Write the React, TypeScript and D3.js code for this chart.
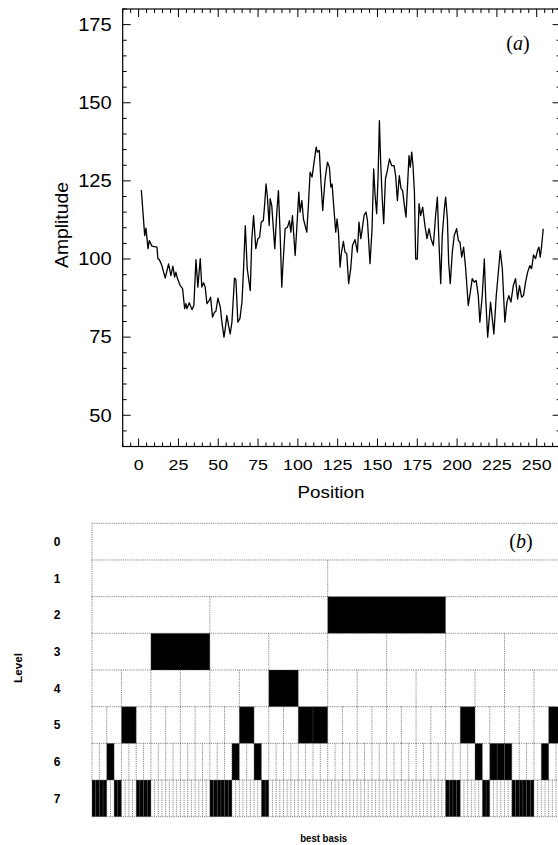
import React from "react";
import * as d3 from "d3";

// ---------- Panel (a): signal ----------
const positions = [
  1.7, 3.8, 4.6, 5.9, 6.7, 8.4, 11.5, 12.1, 13, 14.6, 16.7, 18.8, 20.3, 21.5, 22.6, 23.4, 24.3, 26.1, 27.6, 28.9,
  29.7, 30.3, 31.8, 33.5, 34.7, 36, 37.2, 38.7, 39.7, 40.8, 41.8, 42.9, 44.3, 45.2, 46.4, 47.7, 48.5, 49.8, 51.3, 52.3,
  53.6, 54.4, 55.4, 56.5, 57.5, 58.6, 60.2, 61.1, 62.3, 63.6, 64.9, 65.9, 67, 68.2, 70.1, 71.1, 72.2, 73.6, 74.9, 76,
  77, 78.3, 79.1, 80, 80.8, 82,
  82.6, 83.6, 85.5, 86.8, 87.8, 88.9, 89.9, 90.5, 92, 93.5, 94.7, 95.6, 96.6, 98.3, 99.3, 100.6, 101.4, 102.5, 103.5,
  105.6, 106.6, 107.7, 108.9, 110.2, 111.5, 112.3, 113.5, 114.4, 115.6, 117.1, 118.6, 119.8, 120.7, 121.5, 122.8,
  123.8, 124.6, 125.5, 126.5, 127.4, 128.6, 129.6, 130.7, 131.9, 133.2, 134.3, 135.9, 137.4, 138.4, 139.5, 140.3,
  141.6, 142.8, 143.7, 145.3, 146.6, 147.6, 148.5, 149.5, 150.4, 151.2, 152, 152.9, 153.9, 155, 156.2, 157.5, 158.9,
  160.4, 161.4, 162.5, 163.7, 164.8, 165.8, 166.9,
  167.9, 169.8, 170.6, 171.5, 172.3, 173.2, 174, 175, 176.1, 177.1, 178.4, 179.8, 181.1, 182.4, 183.6, 185.1, 186.5,
  187.6, 188.6, 189.7, 190.7, 192, 192.8, 193.9, 194.7, 195.7, 197, 198.2, 199.7, 200.8, 201.8, 202.9, 204.1, 205.4,
  207, 208.3, 209.5, 210.8, 212, 213.3, 214.3, 215.8, 217.1, 217.9, 219.2, 220, 221, 222.1, 223.1, 224.6, 226.1,
  227.1, 228.4, 230, 231.3, 232.5, 233.8, 235.3, 236.7, 238, 239.2, 240.5, 241.7, 243, 244.3, 245.7, 246.8, 248,
  249.3, 250.5, 251.4, 252.2, 253, 254.1,
];
const amplitudes = [
  122.1, 107.5, 109.9, 103.3, 105.9, 104.1, 103.8, 100.1, 99.8, 97.9, 93.9, 98.4, 94.7, 97.7, 94.2, 95.8, 93.9, 91.5, 90.5, 84.1,
  85.7, 84.1, 86, 83.8, 85.1, 99.8, 91, 100.1, 91, 92.4, 91, 85.7, 86.7, 87.8, 81.4, 83, 83.2, 87.5, 84.6, 79.8,
  75, 77.7, 81.9, 78.7, 76, 79.8, 93.9, 93.4, 79.8, 80.9, 86.2, 96.9, 110.7, 96.9, 89.9, 106.5, 113.9, 103.3, 106.5, 107,
  111.8, 112.3, 117.1, 124, 120.3, 110.7,
  119.3, 117.1, 103.3, 115, 121.9, 107.5, 91, 96.9, 109.7, 110.2, 112.3, 108.6, 113.9, 101.1, 109.7, 121.4, 115, 118.7, 112.8,
  108.6, 117.1, 127.8, 126.2, 131, 135.8, 134.2, 134.7, 125.6, 115.5, 125.6, 131, 129.4, 123, 124, 115,
  108.6, 112.8, 108.6, 97.4, 102.2, 105.6, 102.2, 101.7, 92.1, 96.9, 104.3, 106.2, 102.2, 111.8, 106.5, 109.1,
  114, 115, 112.3, 98.5, 109.7, 128.8, 120.3, 114.5, 126.7, 144.3, 131, 120.3, 111.3, 125.6, 128.3, 132, 129.9,
  129.9, 126.7, 118.7, 126.7, 122.5, 121.9, 117.1,
  113.4, 133.1, 129.4, 134.2, 129.9, 121.4, 100, 100, 117.7, 113.9, 116.6, 110.7, 106.5, 109.7, 106.5, 104.3, 113.9,
  119.8, 105.4, 92.1, 107.5, 116.1, 119.8, 112.8, 99, 92.1, 102.2, 107.5, 109.7, 105.9, 105.4, 100.6, 103.8, 96.9,
  85.1, 89.4, 93.7, 92.6, 93.1, 88.3, 79.8, 88.3, 100, 88.3, 75, 79.8, 86.2, 80.9, 76, 88.3, 96.9,
  102.7, 96.9, 79.8, 86.2, 88.3, 86.2, 91.5, 93.7, 87.2, 91.5, 87.8, 88.3, 92.6, 95.8, 97.9, 96.9, 101.3,
  100.1, 102.7, 103.8, 100.6, 103.8, 109.7,
];
const xTickValues = [0, 25, 50, 75, 100, 125, 150, 175, 200, 225, 250];
const yTickValues = [50, 75, 100, 125, 150, 175];

// ---------- Panel (b): best basis cells (black cell indices per level) ----------
const levels = [0, 1, 2, 3, 4, 5, 6, 7];
const blackLevel0: number[] = [];
const blackLevel1: number[] = [];
const blackLevel2 = [2];
const blackLevel3 = [1];
const blackLevel4 = [6];
const blackLevel5 = [2, 10, 14, 15, 25, 31];
const blackLevel6 = [2, 19, 22, 52, 54, 55, 56, 61];
const blackLevel7 = [0, 1, 2, 3, 6, 7, 12, 13, 14, 15, 32, 33, 34, 35, 36, 37, 46, 47, 96, 97, 98, 99, 106, 107, 114, 115, 116, 117, 118, 119];

export default function App() {
  const W = 558, H = 845;
  // Panel (a) geometry
  const L = 122.7, R = 560.6, T = 9, B = 446.5;
  const x = d3.scaleLinear().domain([-10, 265]).range([L, R]);
  const y = d3.scaleLinear().domain([40, 180]).range([B, T]);
  const line = d3.line<number>().x((_, i) => x(positions[i])).y((d) => y(d)).curve(d3.curveLinear);

  const xMinor = d3.range(-10, 266, 5);
  const yMinor = d3.range(40, 181, 5);

  // Panel (b) geometry
  const gx = d3.scaleLinear().domain([0, 1]).range([92, 563.4]);
  const gy = d3.scaleBand<number>().domain(levels).range([523.3, 816.7]).paddingInner(0).paddingOuter(0);
  const blacks = [blackLevel0, blackLevel1, blackLevel2, blackLevel3, blackLevel4, blackLevel5, blackLevel6, blackLevel7];
  const dotted = { stroke: "#555", strokeWidth: 0.7, strokeDasharray: "1.2,1", fill: "none" } as const;

  const sans = "'Liberation Sans', Arial, sans-serif";
  const serif = "'Liberation Serif', 'Times New Roman', serif";

  return (
    <svg width={W} height={H} style={{ position: "absolute", left: 0, top: 0, background: "#fff" }}>
      <rect x={0} y={0} width={W} height={H} fill="#fff" />
      {/* ===== Panel (a) ===== */}
      <rect x={L} y={T} width={R - L} height={B - T} fill="none" stroke="#000" strokeWidth={1.2} />
      {xMinor.map((v) => {
        const major = v % 25 === 0;
        const len = major ? 8 : 4;
        return (
          <g key={"xt" + v}>
            <line x1={x(v)} x2={x(v)} y1={B} y2={B - len} stroke="#000" strokeWidth={1} />
            <line x1={x(v)} x2={x(v)} y1={T} y2={T + len} stroke="#000" strokeWidth={1} />
          </g>
        );
      })}
      {yMinor.map((v) => {
        const major = v % 25 === 0;
        const len = major ? 8 : 4;
        return (
          <g key={"yt" + v}>
            <line x1={L} x2={L + len} y1={y(v)} y2={y(v)} stroke="#000" strokeWidth={1} />
            <line x1={R} x2={R - len} y1={y(v)} y2={y(v)} stroke="#000" strokeWidth={1} />
          </g>
        );
      })}
      {xTickValues.map((v) => (
        <g key={"xl" + v} transform={`translate(${x(v)},470) scale(1.15,1)`}>
          <text textAnchor="middle" fontFamily={sans} fontSize={15.5} fill="#000">{v}</text>
        </g>
      ))}
      {yTickValues.map((v) => (
        <g key={"yl" + v} transform={`translate(111.7,${y(v)}) scale(1.15,1)`}>
          <text textAnchor="end" dy="0.36em" fontFamily={sans} fontSize={17.5} fill="#000">{v}</text>
        </g>
      ))}
      <text x={331} y={498} textAnchor="middle" fontFamily={sans} fontSize={17} textLength={67} lengthAdjust="spacingAndGlyphs">Position</text>
      <text transform="translate(68,225) rotate(-90)" textAnchor="middle" fontFamily={sans} fontSize={18} textLength={86} lengthAdjust="spacingAndGlyphs">Amplitude</text>
      <text x={518} y={50} textAnchor="middle" fontFamily={serif} fontSize={20}>
        (<tspan fontStyle="italic">a</tspan>)
      </text>
      <path d={line(amplitudes) || ""} fill="none" stroke="#000" strokeWidth={1.3} strokeLinejoin="round" />

      {/* ===== Panel (b) ===== */}
      {levels.map((lv) => {
        const n = Math.pow(2, lv);
        const y0 = gy(lv)!;
        const h = gy.bandwidth();
        return (
          <g key={"lv" + lv}>
            {blacks[lv].map((i) => (
              <rect key={"b" + i} x={gx(i / n)} y={y0} width={gx((i + 1) / n) - gx(i / n)} height={h} fill="#000" />
            ))}
            {d3.range(0, n + 1).map((i) => (
              <line key={"v" + i} x1={gx(i / n)} x2={gx(i / n)} y1={y0} y2={y0 + h} {...dotted} />
            ))}
            <line x1={gx(0)} x2={gx(1)} y1={y0} y2={y0} {...dotted} />
            <text x={57} y={y0 + h / 2} dy="0.36em" textAnchor="middle" fontFamily={sans} fontWeight="bold" fontSize={12}>{lv}</text>
          </g>
        );
      })}
      <line x1={gx(0)} x2={gx(1)} y1={816.7} y2={816.7} {...dotted} />
      <text transform="translate(22,668) rotate(-90)" textAnchor="middle" fontFamily={sans} fontWeight="bold" fontSize={11.5} textLength={30} lengthAdjust="spacingAndGlyphs">Level</text>
      <text x={323.7} y={842} textAnchor="middle" fontFamily={sans} fontWeight="bold" fontSize={10} textLength={47} lengthAdjust="spacingAndGlyphs">best basis</text>
      <text x={521} y={548} textAnchor="middle" fontFamily={serif} fontSize={20}>
        (<tspan fontStyle="italic">b</tspan>)
      </text>
    </svg>
  );
}
